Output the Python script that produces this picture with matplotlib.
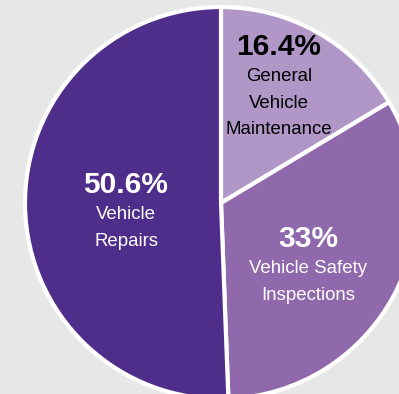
import matplotlib
matplotlib.use("Agg")
import matplotlib.pyplot as plt

# share of work orders by service type
labels = ["General\nVehicle\nMaintenance", "Vehicle Safety\nInspections", "Vehicle\nRepairs"]
shares = [16.4, 33, 50.6]
pct_labels = ["16.4%", "33%", "50.6%"]
colors = ["#b097c8", "#9068ac", "#4f2d8a"]
text_colors = ["black", "white", "white"]

# label spots in pixel coords (x, y from top)
pct_pos = [(279, 47), (308, 239), (126, 185)]
name_pos = [(279, 103), (308, 282), (126, 228)]

plt.rcParams["font.family"] = ["Liberation Sans", "DejaVu Sans"]

W, H = 399, 394
fig = plt.figure(figsize=(W / 100, H / 100), dpi=100)
fig.patch.set_facecolor("#e6e7e6")
ax = fig.add_axes([0, 0, 1, 1])
ax.set_facecolor("#e6e7e6")

ax.pie(shares, colors=colors, startangle=90, counterclock=False,
       center=(221, H - 203), radius=196,
       wedgeprops={"edgecolor": "white", "linewidth": 3})

for i in range(len(shares)):
    px, py = pct_pos[i]
    ax.text(px, H - py, pct_labels[i], ha="center", va="center",
            fontsize=21.5, fontweight="bold", color=text_colors[i])
    nx, ny = name_pos[i]
    ax.text(nx, H - ny, labels[i], ha="center", va="center",
            fontsize=13.4, color=text_colors[i], linespacing=1.75)

ax.set_xlim(0, W)
ax.set_ylim(0, H)
ax.set_aspect("equal")
ax.axis("off")

fig.savefig("out.png", dpi=100, facecolor=fig.get_facecolor())
